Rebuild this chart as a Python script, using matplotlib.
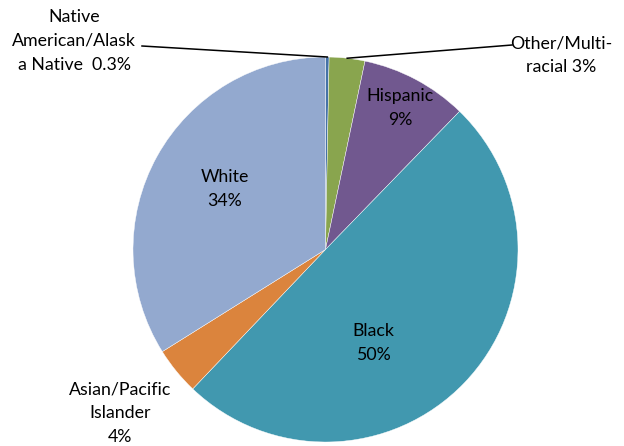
import numpy as np
import matplotlib.pyplot as plt

# Enrollment share by race/ethnicity (percent)
groups = ["Native American/Alaska Native", "Other/Multi-racial", "Hispanic",
          "Black", "Asian/Pacific Islander", "White"]
shares = [0.3, 3, 9, 50, 4, 34]
colors = ["#4572A7", "#89A54E", "#71588F", "#4198AF", "#DB843D", "#93A9CF"]

# label text as it is wrapped on the chart
label_text = ["Native\nAmerican/Alask\na Native  0.3%",
              "Other/Multi-\nracial 3%",
              "Hispanic\n9%",
              "Black\n50%",
              "Asian/Pacific\nIslander\n4%",
              "White\n34%"]

plt.rcParams['font.family'] = ['Lato', 'DejaVu Sans']

W, H = 624, 446
fig = plt.figure(figsize=(W / 100, H / 100), dpi=100)
ax = fig.add_axes([0, 0, 1, 1])

cx, cy, r = 325.5, H - 249.5, 192.5
wedges, _ = ax.pie(shares, colors=colors, startangle=90, counterclock=False,
                   center=(cx, cy), radius=r, frame=True,
                   wedgeprops=dict(edgecolor="white", linewidth=0.3))
ax.set_xlim(0, W)
ax.set_ylim(0, H)
ax.axis("off")

# label positions (pixel coords from top-left)
label_pos = [(74, 41), (561, 55), (400, 108), (373, 343), (120, 413), (225, 189)]
for txt, (x, y) in zip(label_text, label_pos):
    ax.text(x, H - y, txt, ha="center", va="center", fontsize=12.8,
            linespacing=1.6, color="black")

# leader lines from the small slices out to their labels
total = sum(shares)
cum = np.cumsum([0] + shares[:-1])
line_ends = {0: (142, 46), 1: (512, 45)}
for i, (ex, ey) in line_ends.items():
    mid = (cum[i] + shares[i] / 2) / total * 2 * np.pi
    px, py = cx + r * np.sin(mid), cy + r * np.cos(mid)
    ax.plot([px, ex], [py, H - ey], color="black", lw=1.1)

fig.savefig("out.png", dpi=100)
